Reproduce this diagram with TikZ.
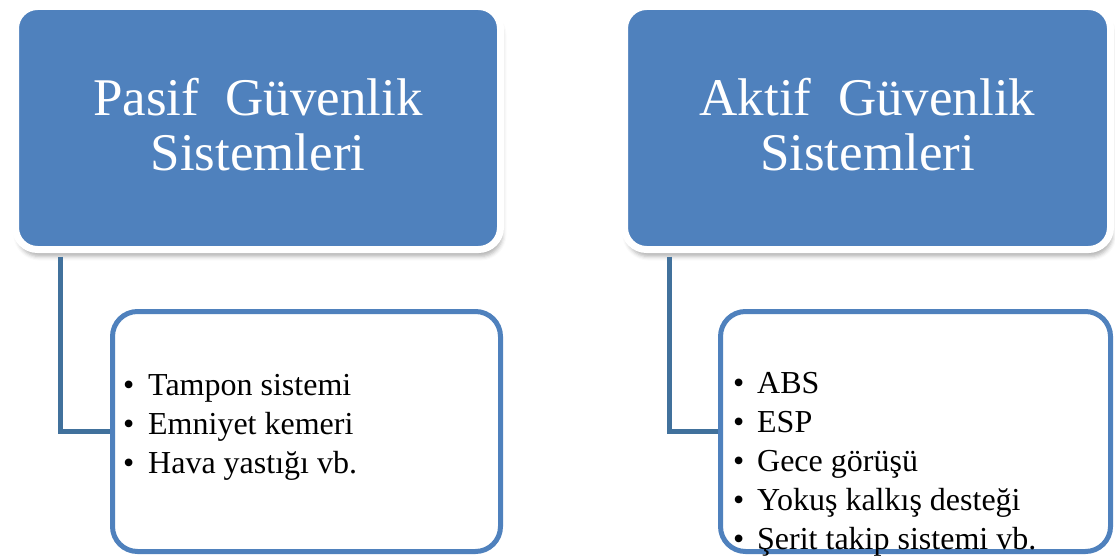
\documentclass[tikz,border=0pt]{standalone}
\usepackage{fontspec}
\setmainfont{Liberation Serif}
\usepackage{xcolor}
\usetikzlibrary{shadows.blur}
\definecolor{kutumavi}{HTML}{4F81BD}
\definecolor{hatmavi}{HTML}{41719C}

\tikzset{
  baslik/.style={draw=white, line width=7pt, fill=kutumavi, rounded corners=22pt,
    minimum width=486pt, minimum height=243pt, text=white, align=center,
    font=\rmfamily\fontsize{53}{55}\selectfont, text depth=7pt,
    blur shadow={shadow xshift=2pt, shadow yshift=-7pt, shadow blur radius=4pt, shadow opacity=30}},
  liste/.style={draw=kutumavi, line width=5pt, fill=white, rounded corners=25pt,
    minimum width=390pt, minimum height=240pt},
  madde/.style={anchor=base west, inner sep=0pt, font=\rmfamily\fontsize{32}{39}\selectfont},
  hat/.style={draw=hatmavi, line width=5pt}
}

\begin{document}
\begin{tikzpicture}[x=1pt,y=-1pt]
  \useasboundingbox (0,0) rectangle (1115,556);
  \node (pasif) [baslik, minimum width=485pt] at (258,128) {Pasif~~Güvenlik\\Sistemleri};
  \node (aktif) [baslik] at (867.5,128) {Aktif~~Güvenlik\\Sistemleri};
  \node (pasifliste) [liste, minimum width=388pt] at (306.5,431.5) {};
  \node (aktifliste) [liste] at (915.5,431.5) {};
  \path (pasif.south west) +(48,3.5) coordinate (pasifo);
  \draw[hat] (pasifo) |- (pasifliste.west);
  \path (aktif.south west) +(48,3.5) coordinate (aktifo);
  \draw[hat] (aktifo) |- (aktifliste.west);
  \foreach \metin [count=\i] in {Tampon sistemi, Emniyet kemeri, Hava yastığı vb.}
    \node[madde] (pasif\i) at (123,356+39*\i) {\makebox[25pt][l]{\textbullet}\metin};
  \foreach \metin [count=\i] in {ABS, ESP, Gece görüşü, Yokuş kalkış desteği, Şerit takip sistemi vb.}
    \node[madde] (aktif\i) at (733,354+39*\i) {\makebox[24pt][l]{\textbullet}\metin};
\end{tikzpicture}
\end{document}
